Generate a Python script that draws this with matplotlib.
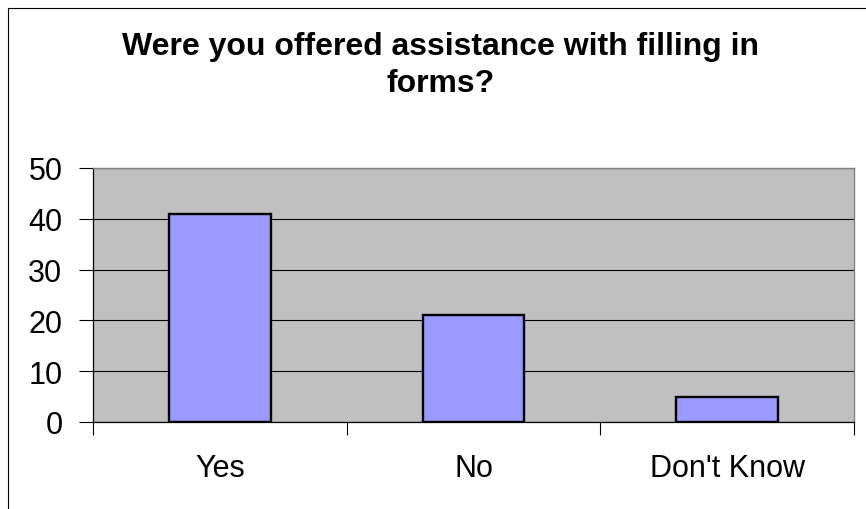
import matplotlib
matplotlib.use("Agg")
import matplotlib.pyplot as plt
from matplotlib.patches import Rectangle
import numpy as np

categories = ["Yes", "No", "Don't Know"]
counts = [41, 21, 5]
y_ticks = [0, 10, 20, 30, 40, 50]

plt.rcParams["font.family"] = ["Liberation Sans", "DejaVu Sans"]

W, H = 866, 510
fig = plt.figure(figsize=(W / 100, H / 100), dpi=100)

# chart-area frame (runs off the right and bottom edges)
fig.add_artist(Rectangle((8 / W, 1 - 9 / H), 2.0, -2.0, transform=fig.transFigure,
                         fill=False, edgecolor="black", linewidth=0.8))

ax = fig.add_axes([93 / W, 1 - 423 / H, (854 - 93) / W, (423 - 169) / H])
ax.set_facecolor("#C0C0C0")

x = np.arange(len(categories))
ax.bar(x, counts, width=0.4, color="#9999FF", edgecolor="black", linewidth=1.7, zorder=3)

ax.set_xlim(-0.5, len(categories) - 0.5)
ax.set_ylim(0, 50)
ax.set_yticks(y_ticks)
ax.set_yticklabels([str(v) for v in y_ticks], fontsize=22)
ax.set_xticks(x)
ax.set_xticklabels(categories, fontsize=22)
ax.set_xticks(np.arange(len(categories) + 1) - 0.5, minor=True)

ax.tick_params(axis="x", which="major", length=0, pad=22)
ax.tick_params(axis="x", which="minor", length=9, width=0.8, direction="out")
ax.tick_params(axis="y", which="major", length=10, width=0.8, direction="out", pad=12)

ax.yaxis.grid(True, color="black", linewidth=0.8, zorder=1)
ax.set_axisbelow(True)

for side in ("top", "right"):
    ax.spines[side].set_color("#808080")
    ax.spines[side].set_linewidth(1.0)
for side in ("left", "bottom"):
    ax.spines[side].set_color("black")
    ax.spines[side].set_linewidth(0.9)

fig.text(441 / W, 1 - 31.5 / H, "Were you offered assistance with filling in\nforms?",
         ha="center", va="top", fontsize=23, fontweight="bold", linespacing=1.33)

fig.savefig("out.png", dpi=100)
